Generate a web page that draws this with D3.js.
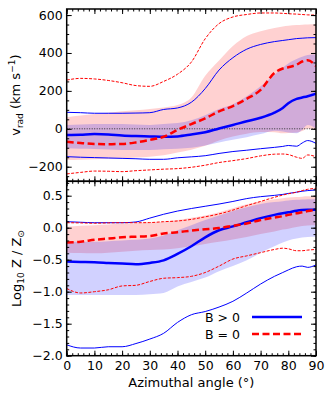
<!DOCTYPE html>
<html>
<head>
<meta charset="utf-8">
<script src="https://cdn.jsdelivr.net/npm/d3@7"></script>
<style>
  body { margin: 0; background: #fff; }
  svg { font-family: "DejaVu Sans", sans-serif; }
</style>
</head>
<body>
<div id="chart"></div>
<script>
// azimuthal angle grid (deg)
const angles = [0, 5, 10, 15, 20, 25, 30, 35, 40, 45, 50, 55, 60, 65, 70, 75, 78, 80, 83, 85, 87, 90];

// top panel: v_rad (km/s)
const vMedB  = [-33, -31, -28, -30, -35, -38, -40, -42, -40, -30, -18, 2, 20, 40, 58, 85, 110, 135, 158, 165, 172, 185];
const vMed0  = [-68, -75, -80, -81, -80, -72, -59, -42, -6, 25, 55, 92, 120, 158, 205, 295, 318, 325, 338, 355, 362, 331];
const vHiB   = [87, 85, 82, 82, 82, 83, 85, 102, 110, 140, 212, 310, 375, 420, 445, 460, 466, 470, 476, 478, 480, 481];
const vLoB   = [-147, -150, -152, -154, -156, -158, -161, -161, -153, -148, -142, -130, -120, -113, -105, -98, -93, -88, -92, -75, -62, -77];
const vHi0   = [257, 266, 263, 255, 243, 228, 224, 250, 288, 352, 475, 555, 590, 603, 611, 611, 609, 607, 605, 603, 601, 600];
const vLo0   = [-238, -230, -223, -224, -226, -221, -217, -213, -210, -203, -192, -178, -168, -157, -143, -134, -133, -136, -150, -156, -138, -147];
const vBandBHi = [20, 23, 25, 25, 25, 23, 20, 25, 30, 45, 72, 105, 130, 172, 225, 285, 322, 345, 368, 380, 389, 393];
const vBandBLo = [-103, -105, -106, -109, -112, -112, -112, -108, -105, -100, -88, -72, -58, -44, -28, -10, -14, -20, -24, -5, 20, 2];
const vBand0Hi = [61, 70, 78, 85, 92, 98, 105, 112, 125, 165, 280, 360, 437, 490, 515, 532, 540, 543, 547, 549, 550, 551];
const vBand0Lo = [-165, -163, -161, -158, -156, -152, -147, -139, -125, -110, -90, -62, -41, -26, -17, -18, -24, -22, -20, -12, 2, -6];

// bottom panel: log10 Z/Zsun
const zMedB  = [-0.53, -0.535, -0.54, -0.55, -0.56, -0.57, -0.55, -0.51, -0.41, -0.29, -0.15, -0.04, 0.02, 0.085, 0.15, 0.2, 0.225, 0.24, 0.265, 0.275, 0.28, 0.28];
const zMed0  = [-0.23, -0.22, -0.19, -0.17, -0.15, -0.14, -0.13, -0.09, -0.07, -0.045, -0.025, -0.005, 0.03, 0.065, 0.12, 0.16, 0.18, 0.2, 0.225, 0.24, 0.26, 0.28];
const zHiB   = [0.094, 0.085, 0.078, 0.078, 0.078, 0.09, 0.15, 0.21, 0.26, 0.3, 0.335, 0.37, 0.41, 0.455, 0.485, 0.505, 0.52, 0.535, 0.555, 0.57, 0.58, 0.59];
const zLoB   = [-1.83, -1.88, -1.88, -1.86, -1.86, -1.81, -1.74, -1.65, -1.48, -1.36, -1.31, -1.24, -1.15, -1.02, -0.88, -0.76, -0.7, -0.66, -0.61, -0.6, -0.62, -0.58];
const zHi0   = [0.078, 0.075, 0.07, 0.075, 0.078, 0.078, 0.08, 0.094, 0.105, 0.13, 0.17, 0.215, 0.275, 0.345, 0.41, 0.475, 0.51, 0.53, 0.555, 0.58, 0.6, 0.615];
const zLo0   = [-0.95, -1.02, -1.0, -0.97, -0.91, -0.9, -0.84, -0.79, -0.78, -0.76, -0.7, -0.6, -0.49, -0.44, -0.39, -0.34, -0.32, -0.33, -0.36, -0.36, -0.35, -0.34];
const zBandBHi = [-0.22, -0.22, -0.22, -0.21, -0.2, -0.19, -0.17, -0.12, -0.04, 0.04, 0.12, 0.19, 0.26, 0.32, 0.37, 0.4, 0.415, 0.425, 0.435, 0.44, 0.445, 0.45];
const zBandBLo = [-1.05, -1.05, -1.05, -1.05, -1.05, -1.05, -1.04, -1.02, -0.92, -0.85, -0.78, -0.68, -0.6, -0.51, -0.39, -0.29, -0.23, -0.2, -0.17, -0.155, -0.145, -0.14];
const zBand0Hi = [0.016, 0.03, 0.04, 0.05, 0.06, 0.07, 0.08, 0.094, 0.12, 0.155, 0.19, 0.24, 0.305, 0.365, 0.41, 0.445, 0.46, 0.47, 0.48, 0.485, 0.49, 0.49];
const zBand0Lo = [-0.39, -0.395, -0.4, -0.39, -0.375, -0.36, -0.35, -0.34, -0.32, -0.29, -0.255, -0.22, -0.185, -0.145, -0.1, -0.06, -0.03, -0.015, 0.01, 0.025, 0.035, 0.04];

const xTicks = [0, 10, 20, 30, 40, 50, 60, 70, 80, 90];
const vTicks = [-200, 0, 200, 400, 600];
const zTicks = [-2.0, -1.5, -1.0, -0.5, 0.0, 0.5];
const legendLabels = ['B > 0', 'B = 0'];

const W = 330, H = 396;
const left = 66.7, right = 316;
const topY0 = 9, split = 181.3, botY1 = 355.7;

const svg = d3.select('#chart').append('svg')
  .attr('width', W)
  .attr('height', H);

const x = d3.scaleLinear().domain([0, 90]).range([left, right]);
const yV = d3.scaleLinear().domain([-277, 632]).range([split, topY0]);
const yZ = d3.scaleLinear().domain([-2.0, 0.725]).range([botY1, split]);

const blue = '#0000ff', red = '#ff0000';

function drawPanel(y, s) {
  const g = svg.append('g');
  const clipId = 'clip' + s.id;
  svg.append('clipPath').attr('id', clipId)
    .append('rect')
    .attr('x', left).attr('y', y.range()[1])
    .attr('width', right - left).attr('height', y.range()[0] - y.range()[1]);
  const pg = g.append('g').attr('clip-path', `url(#${clipId})`);

  const area = (lo, hi) => d3.area()
    .x((d, i) => x(angles[i]))
    .y0((d, i) => y(lo[i]))
    .y1((d, i) => y(hi[i]))
    .curve(d3.curveMonotoneX)(angles);
  const line = vals => d3.line()
    .x((d, i) => x(angles[i]))
    .y((d, i) => y(vals[i]))
    .curve(d3.curveMonotoneX)(angles);

  pg.append('path').attr('d', area(s.band0Lo, s.band0Hi))
    .attr('fill', red).attr('fill-opacity', 0.18);
  pg.append('path').attr('d', area(s.bandBLo, s.bandBHi))
    .attr('fill', blue).attr('fill-opacity', 0.18);

  if (s.zeroLine) {
    pg.append('line')
      .attr('x1', left).attr('x2', right)
      .attr('y1', y(0)).attr('y2', y(0))
      .attr('stroke', '#333').attr('stroke-width', 1)
      .attr('stroke-dasharray', '1,1.5');
  }

  [s.hiB, s.loB].forEach(v => {
    pg.append('path').attr('d', line(v))
      .attr('fill', 'none').attr('stroke', blue).attr('stroke-width', 1);
  });
  [s.hi0, s.lo0].forEach(v => {
    pg.append('path').attr('d', line(v))
      .attr('fill', 'none').attr('stroke', red).attr('stroke-width', 1)
      .attr('stroke-dasharray', '3,1.5');
  });
  pg.append('path').attr('d', line(s.medB))
    .attr('fill', 'none').attr('stroke', blue).attr('stroke-width', 2.5);
  pg.append('path').attr('d', line(s.med0))
    .attr('fill', 'none').attr('stroke', red).attr('stroke-width', 2.5)
    .attr('stroke-dasharray', '7,3.5');

  // ticks, all inward
  const yTop = y.range()[1], yBot = y.range()[0];
  const xMinor = d3.range(0, 91, 2);
  const addAxis = (ax, tx, ty) => {
    const a = g.append('g').attr('transform', `translate(${tx},${ty})`).call(ax);
    a.select('.domain').remove();
    a.selectAll('line').attr('stroke', '#000').attr('stroke-width', 1);
    a.selectAll('text').attr('font-size', 12.5).attr('fill', '#000')
      .attr('font-family', '"DejaVu Sans", sans-serif');
    return a;
  };
  // bottom x
  addAxis(d3.axisBottom(x).tickValues(xMinor).tickSize(-2.5).tickFormat(''), 0, yBot);
  addAxis(d3.axisBottom(x).tickValues(xTicks).tickSize(-5).tickPadding(5)
    .tickFormat(s.showX ? d3.format('d') : ''), 0, yBot);
  // top x
  addAxis(d3.axisTop(x).tickValues(xMinor).tickSize(-2.5).tickFormat(''), 0, yTop);
  addAxis(d3.axisTop(x).tickValues(xTicks).tickSize(-5).tickFormat(''), 0, yTop);
  // left y
  addAxis(d3.axisLeft(y).tickValues(s.minorY).tickSize(-2.5).tickFormat(''), left, 0);
  addAxis(d3.axisLeft(y).tickValues(s.majorY).tickSize(-5).tickPadding(4)
    .tickFormat(s.fmt), left, 0);
  // right y
  addAxis(d3.axisRight(y).tickValues(s.minorY).tickSize(-2.5).tickFormat(''), right, 0);
  addAxis(d3.axisRight(y).tickValues(s.majorY).tickSize(-5).tickFormat(''), right, 0);

  g.append('rect')
    .attr('x', left).attr('y', yTop)
    .attr('width', right - left).attr('height', yBot - yTop)
    .attr('fill', 'none').attr('stroke', '#000').attr('stroke-width', 1.5);
  return g;
}

drawPanel(yV, {
  id: 'v', zeroLine: true, showX: false,
  medB: vMedB, med0: vMed0, hiB: vHiB, loB: vLoB, hi0: vHi0, lo0: vLo0,
  bandBHi: vBandBHi, bandBLo: vBandBLo, band0Hi: vBand0Hi, band0Lo: vBand0Lo,
  majorY: vTicks,
  minorY: d3.range(-250, 631, 50),
  fmt: d => d3.format('d')(d).replace('-', '\u2212')
});

drawPanel(yZ, {
  id: 'z', zeroLine: false, showX: true,
  medB: zMedB, med0: zMed0, hiB: zHiB, loB: zLoB, hi0: zHi0, lo0: zLo0,
  bandBHi: zBandBHi, bandBLo: zBandBLo, band0Hi: zBand0Hi, band0Lo: zBand0Lo,
  majorY: zTicks,
  minorY: d3.range(-20, 8, 1).map(d => d / 10),
  fmt: d => d3.format('.1f')(d).replace('-', '\u2212')
});

// axis labels
const lab = svg.append('g').attr('font-size', 13).attr('fill', '#000');

const vl = lab.append('text')
  .attr('transform', `translate(20,${(topY0 + split) / 2}) rotate(-90)`)
  .attr('text-anchor', 'middle');
vl.append('tspan').text('v');
vl.append('tspan').attr('font-size', 9).attr('dy', 3).text('rad');
vl.append('tspan').attr('dy', -3).text(' (km s');
vl.append('tspan').attr('font-size', 9).attr('dy', -5).text('\u22121');
vl.append('tspan').attr('dy', 5).text(')');

const zl = lab.append('text')
  .attr('transform', `translate(21,${(split + botY1) / 2}) rotate(-90)`)
  .attr('text-anchor', 'middle');
zl.append('tspan').text('Log');
zl.append('tspan').attr('font-size', 9).attr('dy', 3).text('10');
zl.append('tspan').attr('dy', -3).text(' Z / Z');
zl.append('tspan').attr('font-size', 9).attr('dy', 3).text('\u2299');

lab.append('text')
  .attr('x', (left + right) / 2).attr('y', 387)
  .attr('text-anchor', 'middle')
  .text('Azimuthal angle (\u00b0)');

// legend
const leg = svg.append('g');
const legY = [317, 334];
leg.selectAll('text').data(legendLabels).join('text')
  .attr('x', 240).attr('y', (d, i) => legY[i] + 4.5)
  .attr('text-anchor', 'end')
  .attr('font-size', 12.5)
  .text(d => d);
leg.append('line').attr('x1', 252).attr('x2', 302).attr('y1', legY[0]).attr('y2', legY[0])
  .attr('stroke', blue).attr('stroke-width', 2.5);
leg.append('line').attr('x1', 252).attr('x2', 302).attr('y1', legY[1]).attr('y2', legY[1])
  .attr('stroke', red).attr('stroke-width', 2.5).attr('stroke-dasharray', '7,3.5');
</script>
</body>
</html>
